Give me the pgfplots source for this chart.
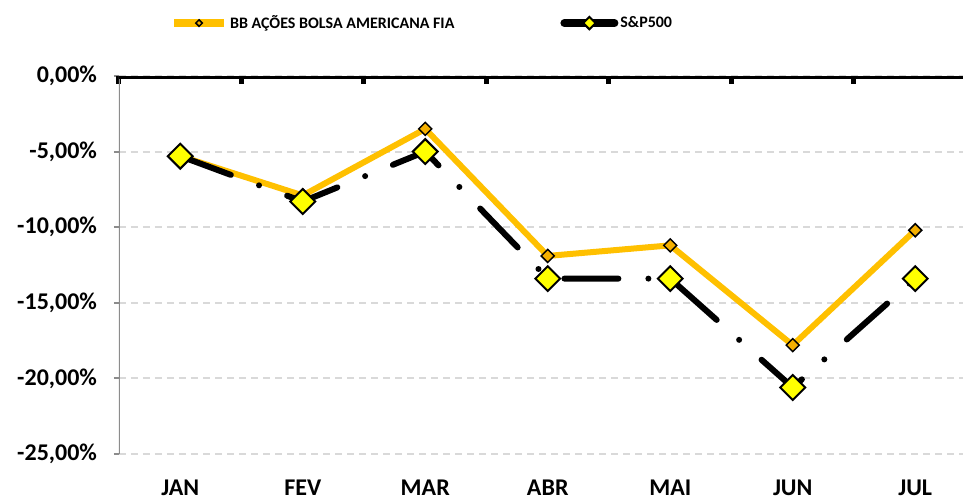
\documentclass[border=0pt]{standalone}
\usepackage{fontspec}
\setmainfont{Carlito}
\usepackage{pgfplots}
\pgfplotsset{compat=1.18}
\definecolor{bbgold}{HTML}{FFC000}
\definecolor{bbmark}{HTML}{F5B000}
\definecolor{spyel}{HTML}{FFFF00}
\definecolor{gridgray}{HTML}{D9D9D9}
\definecolor{axgray}{HTML}{8C8C8C}

\begin{document}
\begin{tikzpicture}
\useasboundingbox (-59.5pt,-23pt) rectangle (422pt,227pt);
\begin{axis}[
  at={(0,0)}, anchor=south west,
  width=422pt, height=189pt, scale only axis,
  xmin=-0.5, xmax=6.39, ymin=-25, ymax=0,
  axis line style={draw=none},
  /pgf/number format/assume math mode=true,
  ticklabel style={font=\fontsize{12}{14}\selectfont\bfseries},
  xtick={0,...,6},
  xticklabels={JAN,FEV,MAR,ABR,MAI,JUN,JUL},
  xtick pos=right, xticklabel pos=left,
  major x tick style={draw=none},
  xticklabel style={yshift=-9.5pt},
  extra x ticks={-0.5,0.5,1.5,2.5,3.5,4.5,5.5},
  extra x tick labels={},
  extra x tick style={major tick length=4pt, xtick align=inside,
    major x tick style={draw=black, line width=2.5pt}},
  ytick={-25,-20,...,0},
  ytick pos=left, ytick align=outside,
  major tick length=2.5pt,
  major y tick style={draw=axgray, line width=1pt},
  yticklabel style={xshift=-5pt},
  yticklabel={\pgfmathprintnumber[fixed,fixed zerofill,precision=2,use comma]{\tick}\%},
  ymajorgrids,
  y grid style={gridgray, line width=1pt, dash pattern=on 3.5pt off 2.5pt},
  legend columns=2,
  legend style={draw=none, fill=none, inner sep=0pt, at={(0.06,1.14)}, anchor=west,
    font=\fontsize{8}{10}\selectfont\bfseries,
    nodes={inner xsep=1pt},
    /tikz/every odd column/.append style={column sep=0pt},
    /tikz/every even column/.append style={column sep=52pt}},
  legend image code/.code={\draw[solid,line width=4pt,mark repeat=2,mark phase=2,every mark/.append style={scale=0.5}]
    plot coordinates {(0pt,0pt) (12.5pt,0pt) (25pt,0pt)};},
]
\addplot[bbgold, line width=3pt, mark=square*, mark size=2.3pt,
  mark options={fill=bbmark, draw=black, line width=0.75pt, rotate=45}]
  coordinates {(0,-5.3) (1,-7.9) (2,-3.5) (3,-11.9) (4,-11.2) (5,-17.8) (6,-10.2)};
\addplot[black, line width=3pt, line cap=round, dash pattern=on 27pt off 15pt on 0pt off 15pt,
  mark=square*, mark size=4.4pt,
  mark options={fill=spyel, draw=black, line width=1pt, rotate=45, solid}]
  coordinates {(0,-5.3) (1,-8.3) (2,-5.0) (3,-13.4) (4,-13.4) (5,-20.6) (6,-13.4)};
\legend{BB AÇÕES BOLSA AMERICANA FIA, S\&P500}
\draw[axgray, line width=1pt] (rel axis cs:0,0) -- (rel axis cs:0,1);
\draw[black, line width=2.5pt] (rel axis cs:0,1) -- (rel axis cs:1,1);
\end{axis}
\end{tikzpicture}
\end{document}
